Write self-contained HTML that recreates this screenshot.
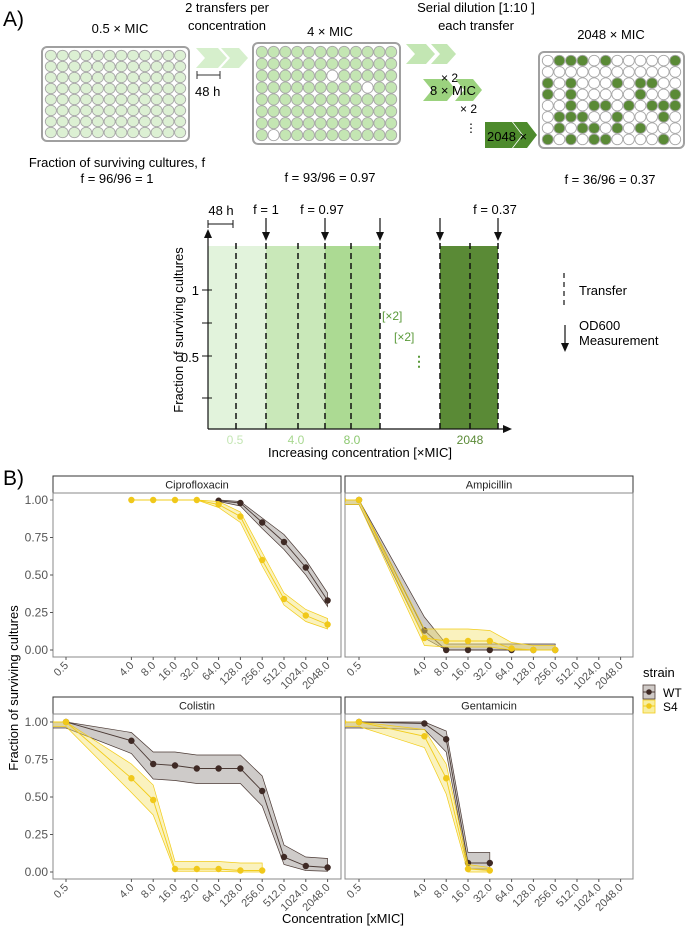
<!DOCTYPE html>
<html><head><meta charset="utf-8"><style>
html,body{margin:0;padding:0;background:#fff;}
svg{display:block;font-family:"Liberation Sans",sans-serif;}
</style></head><body>
<svg id="fig" width="685" height="932" viewBox="0 0 685 932">
<defs>
<clipPath id="clipTL"><rect x="53" y="493" width="288" height="164"/></clipPath>
<clipPath id="clipTR"><rect x="345" y="493" width="288" height="164"/></clipPath>
<clipPath id="clipBL"><rect x="53" y="714" width="288" height="165"/></clipPath>
<clipPath id="clipBR"><rect x="345" y="714" width="288" height="165"/></clipPath>
</defs>
<g id="panelA">
<text x="3" y="26" font-size="21">A)</text>
<text x="120" y="33" font-size="13" text-anchor="middle">0.5 × MIC</text>
<text x="227" y="12" font-size="13" text-anchor="middle">2 transfers per</text>
<text x="227" y="30" font-size="13" text-anchor="middle">concentration</text>
<text x="330" y="36" font-size="13" text-anchor="middle">4 × MIC</text>
<text x="476" y="12" font-size="13" text-anchor="middle">Serial dilution [1:10 ]</text>
<text x="476" y="30" font-size="13" text-anchor="middle">each transfer</text>
<text x="611" y="39" font-size="13" text-anchor="middle">2048 × MIC</text>
<g id="plates"></g>
<path d="M196,48 h22 l9,10 l-9,10 h-22 l9,-10z M221,48 h18 l9,10 l-9,10 h-18 l9,-10z" fill="#d6efcc"/>
<path d="M406,44 h20 l9,10 l-9,10 h-20 l9,-10z M431,44 h16 l9,10 l-9,10 h-16 l9,-10z" fill="#c3e6b3"/>
<path d="M423,79 h24 l9,11 l-9,11 h-24 l9,-11z M455,79 h18 l9,11 l-9,11 h-18 l9,-11z" fill="#9bd27e"/>
<path d="M485,122 h27 l10,13 l-10,13 h-27z M513,122 h14 l10,13 l-10,13 h-14 l10,-13z" fill="#4d8a2c"/>
<line x1="197" y1="75" x2="220" y2="75" stroke="#333" stroke-width="1"/>
<line x1="197" y1="71" x2="197" y2="79" stroke="#333"/><line x1="220" y1="71" x2="220" y2="79" stroke="#333"/>
<text x="195" y="96" font-size="13">48 h</text>
<text x="441" y="82" font-size="12">× 2</text>
<text x="430" y="95" font-size="13">8 × MIC</text>
<text x="460" y="113" font-size="12">× 2</text>
<text x="465" y="132" font-size="12">⋮</text>
<text x="487" y="141" font-size="13">2048 ×</text>
<text x="117" y="167" font-size="13" text-anchor="middle">Fraction of surviving cultures, f</text>
<text x="117" y="183" font-size="13" text-anchor="middle">f = 96/96 = 1</text>
<text x="330" y="182" font-size="13" text-anchor="middle">f = 93/96 = 0.97</text>
<text x="610" y="184" font-size="13" text-anchor="middle">f = 36/96 = 0.37</text>

<rect x="208" y="246" width="58" height="183" fill="#e2f3dc"/>
<rect x="266" y="246" width="59" height="183" fill="#c9e8b9"/>
<rect x="325" y="246" width="55" height="183" fill="#acda93"/>
<rect x="440" y="246" width="58" height="183" fill="#5a8a36"/>
<g id="dashes" stroke="#111" stroke-width="1.5" stroke-dasharray="6,4"></g>
<line x1="208" y1="429" x2="208" y2="236" stroke="#111" stroke-width="1.2"/>
<path d="M204,238 L208,229 L212,238z" fill="#111"/>
<line x1="208" y1="429" x2="505" y2="429" stroke="#111" stroke-width="1.2"/>
<path d="M503,425 L512,429 L503,433z" fill="#111"/>
<g stroke="#111" stroke-width="1"><line x1="202" y1="290" x2="212" y2="290"/><line x1="202" y1="323" x2="212" y2="323"/><line x1="202" y1="356" x2="212" y2="356"/><line x1="202" y1="398" x2="212" y2="398"/></g>
<text x="199" y="295" font-size="13" text-anchor="end">1</text>
<text x="199" y="362" font-size="13" text-anchor="end">0.5</text>
<text transform="translate(183,330) rotate(-90)" font-size="13" text-anchor="middle">Fraction of surviving cultures</text>
<line x1="208" y1="224" x2="233" y2="224" stroke="#111"/><line x1="208" y1="220" x2="208" y2="228" stroke="#111"/><line x1="233" y1="220" x2="233" y2="228" stroke="#111"/>
<text x="221" y="215" font-size="13" text-anchor="middle">48 h</text>
<g id="odArrows"></g>
<text x="266" y="214" font-size="13" text-anchor="middle">f = 1</text>
<text x="322" y="214" font-size="13" text-anchor="middle">f = 0.97</text>
<text x="495" y="214" font-size="13" text-anchor="middle">f = 0.37</text>
<text x="382" y="320" font-size="12" fill="#5a9a3a">[×2]</text>
<text x="394" y="341" font-size="12" fill="#5a9a3a">[×2]</text>
<text x="412" y="366" font-size="14" fill="#5a9a3a" font-weight="bold">⋮</text>
<line x1="564" y1="273" x2="564" y2="307" stroke="#111" stroke-width="1.2" stroke-dasharray="5,4"/>
<text x="579" y="295" font-size="13">Transfer</text>
<line x1="565" y1="325" x2="565" y2="345" stroke="#111" stroke-width="1.2"/><path d="M561,343 L565,352 L569,343z" fill="#111"/>
<text x="579" y="330" font-size="13">OD600</text>
<text x="579" y="345" font-size="13">Measurement</text>
<text x="235" y="444" font-size="12" fill="#c4e6b4" text-anchor="middle">0.5</text>
<text x="296" y="444" font-size="12" fill="#a8d890" text-anchor="middle">4.0</text>
<text x="352" y="444" font-size="12" fill="#8cc870" text-anchor="middle">8.0</text>
<text x="470" y="444" font-size="12" fill="#5a8a36" text-anchor="middle">2048</text>
<text x="360" y="457" font-size="13" text-anchor="middle">Increasing concentration [×MIC]</text>
</g>

<g id="panelB">
<text x="3" y="485" font-size="21">B)</text>
<text transform="translate(18,688) rotate(-90)" font-size="13" text-anchor="middle">Fraction of surviving cultures</text>
<text x="343" y="923" font-size="13" text-anchor="middle">Concentration [xMIC]</text>
<g id="facets"></g>
<text x="643" y="677" font-size="13">strain</text>
<rect x="643" y="685" width="12" height="14" fill="#cfcac7" stroke="#4b3a35" stroke-width="0.8"/>
<line x1="643" y1="692" x2="655" y2="692" stroke="#4b3a35"/><circle cx="649" cy="692" r="2.8" fill="#3f2a25"/>
<text x="663" y="697" font-size="12">WT</text>
<rect x="643" y="700" width="12" height="13" fill="#f7eea0" stroke="#f2cc1a" stroke-width="0.8"/>
<line x1="643" y1="706" x2="655" y2="706" stroke="#f2cc1a"/><circle cx="649" cy="706" r="2.8" fill="#f0c81a"/>
<text x="663" y="711" font-size="12">S4</text>
</g>
</svg>
<script>
const antibiotics = ["Ciprofloxacin","Ampicillin","Colistin","Gentamicin"];
const xTicks = [0.5,4,8,16,32,64,128,256,512,1024,2048];
const yTicks = [0,0.25,0.5,0.75,1];
const ciproWtConc = [64,128,256,512,1024,2048];
const ciproWtVal = [0.995,0.98,0.85,0.72,0.55,0.33];
const ciproWtLo = [0.99,0.96,0.81,0.67,0.50,0.29];
const ciproWtHi = [1.0,0.99,0.88,0.77,0.60,0.38];
const ciproS4Conc = [4,8,16,32,64,128,256,512,1024,2048];
const ciproS4Val = [1,1,1,1,0.97,0.89,0.60,0.34,0.23,0.17];
const ciproS4Lo = [1,1,1,1,0.95,0.85,0.56,0.30,0.19,0.14];
const ciproS4Hi = [1,1,1,1,0.99,0.92,0.65,0.38,0.27,0.21];
const ampWtConc = [0.3,0.5,4,8,16,32,64,128,256];
const ampWtVal = [1,1,0.13,0,0,0,0,0.0,0.0];
const ampWtLo = [0.97,0.97,0.08,0,0,0,0,0,0];
const ampWtHi = [1,1,0.22,0.04,0.04,0.04,0.04,0.04,0.04];
const ampS4Conc = [0.3,0.5,4,8,16,32,64,128,256];
const ampS4Val = [1,1,0.08,0.06,0.06,0.06,0.01,0,0];
const ampS4Lo = [0.97,0.97,0.03,0.02,0.02,0.02,0,0,0];
const ampS4Hi = [1,1,0.14,0.14,0.14,0.13,0.05,0.03,0.03];
const colWtConc = [0.3,0.5,4,8,16,32,64,128,256,512,1024,2048];
const colWtVal = [1,1,0.875,0.72,0.71,0.69,0.69,0.69,0.54,0.10,0.04,0.03];
const colWtLo = [0.96,0.96,0.79,0.62,0.61,0.59,0.59,0.59,0.44,0.05,0.01,0.005];
const colWtHi = [1,1,0.93,0.80,0.80,0.78,0.78,0.78,0.64,0.18,0.10,0.09];
const colS4Conc = [0.3,0.5,4,8,16,32,64,128,256];
const colS4Val = [1,1,0.625,0.48,0.02,0.02,0.02,0.01,0.01];
const colS4Lo = [0.97,0.97,0.53,0.38,0.005,0.005,0.005,0,0];
const colS4Hi = [1,1,0.72,0.58,0.07,0.07,0.07,0.06,0.06];
const genWtConc = [0.3,0.5,4,8,16,32];
const genWtVal = [1,1,0.99,0.885,0.06,0.06];
const genWtLo = [0.96,0.96,0.95,0.80,0.02,0.02];
const genWtHi = [1,1,1,0.94,0.13,0.13];
const genS4Conc = [0.3,0.5,4,8,16,32];
const genS4Val = [1,1,0.905,0.625,0.02,0.01];
const genS4Lo = [0.97,0.97,0.83,0.52,0,0];
const genS4Hi = [1,1,0.95,0.72,0.05,0.03];

const NS="http://www.w3.org/2000/svg";
function mk(tag,attrs,parent){const e=document.createElementNS(NS,tag);for(const k in attrs)e.setAttribute(k,attrs[k]);if(parent)parent.appendChild(e);return e;}

const plates=document.getElementById('plates');
const plate3Green=[[2,3,4,6,12],[],[1,3,7,9,10],[1,3,9,12],[3,5,6,8,10,11,12],[2,3,4,7,11],[2,4,5,7,9],[1,3,5,6,11]];
function drawPlate(x,y,w,h,fillFn,name){
  const g=mk('g',{},plates);
  
  
  mk('rect',{x:x,y:y,width:w,height:h,rx:5,fill:'#fff',stroke:'#a0a0a0','stroke-width':2},g);
  const cw=(w-6)/12,ch=(h-6)/8;
  for(let r=0;r<8;r++)for(let c=0;c<12;c++){
    mk('ellipse',{cx:x+3+cw*(c+0.5),cy:y+3+ch*(r+0.5),rx:cw/2-0.3,ry:ch/2-0.3,fill:fillFn(r,c),stroke:'#a8a8a8','stroke-width':0.9},g);
  }
}
drawPlate(42,47,147,94,()=> '#dcf0d3','well-plate-0-5x');
drawPlate(253,43,147,101,(r,c)=>((r==2&&c==6)||(r==3&&c==9)||(r==7&&c==1))?'#fff':'#c4e6b3','well-plate-4x');
drawPlate(539,52,145,96,(r,c)=>plate3Green[r].includes(c+1)?'#5a8a36':'#fff','well-plate-2048x');

const dashes=document.getElementById('dashes');
[236,266,298,325,351,380,440,470,498].forEach(x=>{const l=mk('line',{x1:x,y1:243,x2:x,y2:429},dashes);

});
const oda=document.getElementById('odArrows');
[266,325,380,440,498].forEach(x=>{const g=mk('g',{},oda);


mk('line',{x1:x,y1:218,x2:x,y2:234,stroke:'#111','stroke-width':1.2},g);mk('path',{d:`M${x-4},232 L${x},241 L${x+4},232z`,fill:'#111'},g);});

const facets=document.getElementById('facets');
const facetGeom=[
 {left:53,top:493,bottom:657,y0:650,x0:66,clip:'clipTL',wt:[ciproWtConc,ciproWtVal,ciproWtLo,ciproWtHi],s4:[ciproS4Conc,ciproS4Val,ciproS4Lo,ciproS4Hi]},
 {left:345,top:493,bottom:657,y0:650,x0:359,clip:'clipTR',wt:[ampWtConc,ampWtVal,ampWtLo,ampWtHi],s4:[ampS4Conc,ampS4Val,ampS4Lo,ampS4Hi]},
 {left:53,top:714,bottom:879,y0:872,x0:66,clip:'clipBL',wt:[colWtConc,colWtVal,colWtLo,colWtHi],s4:[colS4Conc,colS4Val,colS4Lo,colS4Hi]},
 {left:345,top:714,bottom:879,y0:872,x0:359,clip:'clipBR',wt:[genWtConc,genWtVal,genWtLo,genWtHi],s4:[genS4Conc,genS4Val,genS4Lo,genS4Hi]}
];
const W=288, STEP=21.8, YH=150;
facetGeom.forEach((f,i)=>{
  const xs=c=>f.x0+(Math.log2(c)+1)*STEP;
  const ys=v=>f.y0-v*YH;
  const g=mk('g',{},facets);
  
  
  const strip=mk('rect',{x:f.left,y:f.top-17,width:W,height:17,fill:'#fff',stroke:'#333','stroke-width':1},g);
  
  
  const st=mk('text',{x:f.left+W/2,y:f.top-4.5,'font-size':11,'text-anchor':'middle',fill:'#222'},g);
  st.textContent=antibiotics[i];
  
  
  mk('rect',{x:f.left,y:f.top,width:W,height:f.bottom-f.top,fill:'#fff',stroke:'#888','stroke-width':1},g);
  const pg=mk('g',{'clip-path':`url(#${f.clip})`},g);
  [['wt','#4b3a35','#9e9793','#3f2a25'],['s4','#f2cc1a','#f3e36e','#f0c81a']].forEach(([k,lc,rc,pc])=>{
    const [cs,vs,lo,hi]=f[k];
    let d='M'+cs.map((c,j)=>xs(c)+','+ys(hi[j])).join(' L');
    d+=' L'+cs.map((c,j)=>[xs(c),ys(lo[j])]).reverse().map(p=>p.join(',')).join(' L')+'Z';
    const rb=mk('path',{d:d,fill:rc,'fill-opacity':k=='wt'?0.5:0.45,stroke:lc,'stroke-width':0.7},pg);
    
    
    const ln=mk('polyline',{points:cs.map((c,j)=>xs(c)+','+ys(vs[j])).join(' '),fill:'none',stroke:lc,'stroke-width':0.9},pg);
    
    
    cs.forEach((c,j)=>{const p=mk('circle',{cx:xs(c),cy:ys(vs[j]),r:3.2,fill:pc},pg);
      
      });
  });
  if(f.left<100){
    yTicks.forEach(v=>{mk('line',{x1:f.left-3,y1:ys(v),x2:f.left,y2:ys(v),stroke:'#555'},g);
      const t=mk('text',{x:f.left-5,y:ys(v)+4,'font-size':12,'text-anchor':'end',fill:'#555'},g);t.textContent=v.toFixed(2);
      
      });
  }
  xTicks.forEach(c=>{const x=xs(c);mk('line',{x1:x,y1:f.bottom,x2:x,y2:f.bottom+3,stroke:'#555'},g);
    const t=mk('text',{x:x+3,y:f.bottom+9,'font-size':11,'text-anchor':'end',fill:'#555',transform:`rotate(-45 ${x+3} ${f.bottom+9})`},g);
    t.textContent=c.toFixed(1);
    
    });
});
</script>
</body></html>
